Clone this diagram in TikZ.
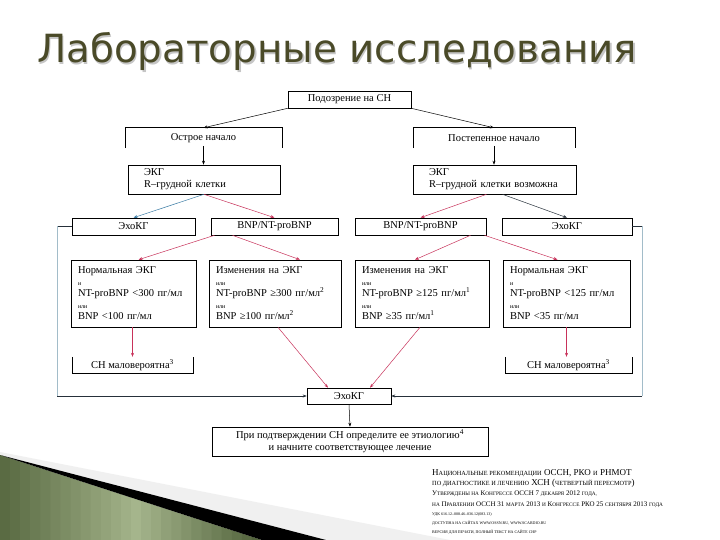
\documentclass[tikz,border=0pt]{standalone}
\usepackage{fontspec}
\setmainfont{Liberation Serif}
\newfontfamily\titlefont{DejaVu Sans}
\usetikzlibrary{arrows.meta}
\definecolor{titlecol}{HTML}{4A4A28}
\definecolor{pinkc}{HTML}{C8325A}
\definecolor{bluec}{HTML}{3A7CA5}
\definecolor{fbc}{HTML}{A2BCC9}
\definecolor{darkc}{HTML}{26303A}
\definecolor{g1}{HTML}{5A6B43}
\definecolor{g2}{HTML}{A5B58C}
\definecolor{g3}{HTML}{52633C}
\newcommand\smc[1]{{\fontsize{6.3}{8}\selectfont #1}}
\newcommand\tsm[1]{{\fontsize{6}{11.5}\selectfont #1}}
\begin{document}
\begin{tikzpicture}[x=1pt,y=-1pt,
  box/.style={draw=black,line width=0.6pt,inner sep=0pt,font=\fontsize{10.5}{12}\selectfont},
  obox/.style={inner sep=0pt,font=\fontsize{10.5}{12}\selectfont},
  cbox/.style={draw=black,line width=0.6pt,inner xsep=7pt,inner ysep=0pt,align=left,
     minimum height=67pt,font=\fontsize{10.5}{11.5}\selectfont},
  ebox/.style={draw=black,line width=0.6pt,inner xsep=16pt,inner ysep=0pt,align=left,
     minimum height=29pt,font=\fontsize{10.5}{12}\selectfont},
  arr/.style={-{Stealth[length=4pt,width=3pt]},line width=0.5pt},
  reftxt/.style={anchor=base west,inner sep=0pt}]
\useasboundingbox (0,0) rectangle (720,540);
\fill[white] (0,0) rectangle (720,540);

% decoration bottom-left
\fill[gray!12] (0,452) -- (450,540) -- (326,540) -- (0,455) -- cycle;
\foreach \i in {0,...,12}{
  \pgfmathsetmacro\xa{\i*10.077}
  \pgfmathsetmacro\xb{\i*10.077+10.677}
  \pgfmathsetmacro\ya{455+\xa*0.32443}
  \pgfmathsetmacro\yb{455+\xb*0.32443}
  \pgfmathtruncatemacro\pc{\i*100/13}
  \fill[g2!\pc!g1] (\xa,\ya) -- (\xb,\yb) -- (\xb,540) -- (\xa,540) -- cycle;
}
\foreach \i in {13,...,25}{
  \pgfmathsetmacro\xa{\i*10.077}
  \pgfmathsetmacro\xb{\i*10.077+10.677}
  \pgfmathsetmacro\ya{455+\xa*0.32443}
  \pgfmathsetmacro\yb{455+\xb*0.32443}
  \pgfmathtruncatemacro\pc{(\i-13)*100/12}
  \fill[g3!\pc!g2] (\xa,\ya) -- (\xb,\yb) -- (\xb,540) -- (\xa,540) -- cycle;
}
\fill[black] (0,455) -- (326,540) -- (262,540) -- cycle;

% title
\node[anchor=base west,inner sep=0pt,font=\titlefont\fontsize{38.8}{40}\selectfont,text=gray!45] (titleshadow) at (38.5,64.5) {Лабораторные исследования};
\node[anchor=base west,inner sep=0pt,font=\titlefont\fontsize{38.8}{40}\selectfont,text=titlecol] (title) at (37,63) {Лабораторные исследования};

% boxes
\node[box,minimum width=123pt,minimum height=17pt] (susp) at (349.5,99.5) {Подозрение на СН};
\node[obox,minimum width=157pt,minimum height=20pt] (acute) at (203.5,138) {Острое начало};
\node[obox,minimum width=162pt,minimum height=20pt] (grad) at (494,138) {Постепенное начало};
\node[ebox,text width=120pt] (ekgL) at (204,179.5) {ЭКГ\\R–грудной клетки};
\node[ebox,text width=131pt] (ekgR) at (494.5,179.5) {ЭКГ\\R–грудной клетки возможна};

\node[box,minimum width=123pt,minimum height=17pt] (echoL) at (133.5,226.5) {ЭхоКГ};
\node[box,minimum width=127pt,minimum height=17pt] (bnpL) at (274.5,226.5) {BNP/NT-proBNP};
\node[box,minimum width=131pt,minimum height=17pt] (bnpR) at (420.5,226.5) {BNP/NT-proBNP};
\node[box,minimum width=130pt,minimum height=17pt] (echoR) at (567,226.5) {ЭхоКГ};

\node[cbox,text width=111pt] (b1) at (133.5,293.5) {Нормальная ЭКГ\\\tsm{и}\\NT-proBNP <300 пг/мл\\\tsm{или}\\BNP <100 пг/мл};
\node[cbox,text width=118pt] (b2) at (275,293.5) {Изменения на ЭКГ\\\tsm{или}\\NT-proBNP ≥300 пг/мл\textsuperscript{2}\\\tsm{или}\\BNP ≥100 пг/мл\textsuperscript{2}};
\node[cbox,text width=120pt] (b3) at (422,293.5) {Изменения на ЭКГ\\\tsm{или}\\NT-proBNP ≥125 пг/мл\textsuperscript{1}\\\tsm{или}\\BNP ≥35 пг/мл\textsuperscript{1}};
\node[cbox,text width=113pt] (b4) at (566.5,293.5) {Нормальная ЭКГ\\\tsm{и}\\NT-proBNP <125 пг/мл\\\tsm{или}\\BNP <35 пг/мл};

\node[obox,minimum width=121pt,minimum height=16pt] (u1) at (132.5,365) {СН маловероятна\textsuperscript{3}};
\node[obox,minimum width=127pt,minimum height=16pt] (u2) at (568.5,365) {СН маловероятна\textsuperscript{3}};

\node[box,minimum width=84pt,minimum height=16pt] (echoC) at (349,396) {ЭхоКГ};
\node[box,minimum width=276pt,minimum height=29pt,align=center] (fin) at (350,441.5) {При подтверждении СН определите ее этиологию\textsuperscript{4}\\и начните соответствующее лечение};

% open box outlines
\draw[line width=0.6pt] (acute.south west) -- (acute.north west) -- (acute.north east) -- (acute.south east);
\draw[line width=0.6pt] (grad.south west) -- (grad.north west) -- (grad.north east) -- (grad.south east);
\draw[line width=0.6pt] (u1.north west) -- (u1.south west) -- (u1.south east) -- (u1.north east);
\draw[line width=0.6pt] (u2.north west) -- (u2.south west) -- (u2.south east) -- (u2.north east);

% connectors
\draw[arr] (susp.south west) -- (acute.north);
\draw[arr] (susp.south east) -- (grad.north);
\draw[arr] (acute.center |- 0,146) -- (ekgL.north -| acute.center);
\draw[arr] (grad.center |- 0,146) -- (ekgR.north -| grad.center);

\draw[arr,bluec] (ekgL.south) -- (echoL.north);
\draw[arr,pinkc] (ekgL.south) -- (bnpL.north);
\draw[arr,pinkc] ([xshift=-8pt]ekgR.south) -- (bnpR.north);
\draw[arr,darkc] ([xshift=8pt]ekgR.south) -- (echoR.north);

\draw[arr,pinkc] ([xshift=-60pt]bnpL.south) -- ([xshift=5pt]b1.north);
\draw[arr,pinkc] ([xshift=-42pt]bnpL.south) -- ([xshift=25pt]b2.north);
\draw[arr,pinkc] ([xshift=50pt]bnpR.south) -- ([xshift=-7pt]b3.north);
\draw[arr,pinkc] ([xshift=64pt]bnpR.south) -- ([xshift=-9pt]b4.north);

\draw[arr,pinkc] ([xshift=-1pt]b1.south) -- ([xshift=-1pt]b1.south |- u1.north);
\draw[arr,pinkc] (b4.south) -- (b4.south |- u2.north);
\draw[arr,pinkc] ([xshift=3pt]b2.south) -- ([xshift=-21pt]echoC.north);
\draw[arr,pinkc] ([xshift=-2pt]b3.south) -- ([xshift=21pt]echoC.north);
\draw[arr] (echoC.south) -- (fin.north);

% feedback loops
\coordinate (fl1) at (57,226.5);
\coordinate (fl2) at (57,396);
\coordinate (fr1) at (642,226.5);
\coordinate (fr2) at (642,396);
\draw[line width=0.6pt,darkc] (echoL.west) -- (fl1);
\draw[line width=1pt,fbc] (fl1) -- (fl2);
\draw[arr,darkc] (fl2) -- (echoC.west);
\draw[line width=0.6pt,darkc] (echoR.east) -- (fr1);
\draw[line width=1pt,fbc] (fr1) -- (fr2);
\draw[arr,darkc] (fr2) -- (echoC.east);

% reference text
\node[reftxt,font=\fontsize{9}{10}\selectfont] (r1) at (432,475) {Н\smc{АЦИОНАЛЬНЫЕ РЕКОМЕНДАЦИИ} ОССН, РКО \smc{И} РНМОТ};
\node[reftxt,font=\fontsize{9}{10}\selectfont] (r2) at (432,485) {\smc{ПО ДИАГНОСТИКЕ И ЛЕЧЕНИЮ} ХСН (\smc{ЧЕТВЕРТЫЙ ПЕРЕСМОТР})};
\node[reftxt,font=\fontsize{7}{8}\selectfont] (r3) at (432,495) {У{\fontsize{5.3}{6}\selectfont ТВЕРЖДЕНЫ НА} К{\fontsize{5.3}{6}\selectfont ОНГРЕССЕ} ОССН 7 {\fontsize{5.3}{6}\selectfont ДЕКАБРЯ} 2012 {\fontsize{5.3}{6}\selectfont ГОДА,}};
\node[reftxt,font=\fontsize{7}{8}\selectfont] (r4) at (432,506) {{\fontsize{5.3}{6}\selectfont НА} П{\fontsize{5.3}{6}\selectfont РАВЛЕНИИ} ОССН 31 {\fontsize{5.3}{6}\selectfont МАРТА} 2013 {\fontsize{5.3}{6}\selectfont И} К{\fontsize{5.3}{6}\selectfont ОНГРЕССЕ} РКО 25 {\fontsize{5.3}{6}\selectfont СЕНТЯБРЯ} 2013 {\fontsize{5.3}{6}\selectfont ГОДА}};
\node[reftxt,font=\fontsize{4}{5}\selectfont] (r5) at (432,515) {УДК 616.12–008.46–036.12(083.13)};
\node[reftxt,font=\fontsize{4}{5}\selectfont] (r6) at (432,524) {ДОСТУПНА НА САЙТАХ WWW.OSSN.RU, WWW.SCARDIO.RU};
\node[reftxt,font=\fontsize{4}{5}\selectfont] (r7) at (432,533) {ВЕРСИЯ ДЛЯ ПЕЧАТИ, ПОЛНЫЙ ТЕКСТ НА САЙТЕ СНР};
\end{tikzpicture}
\end{document}
